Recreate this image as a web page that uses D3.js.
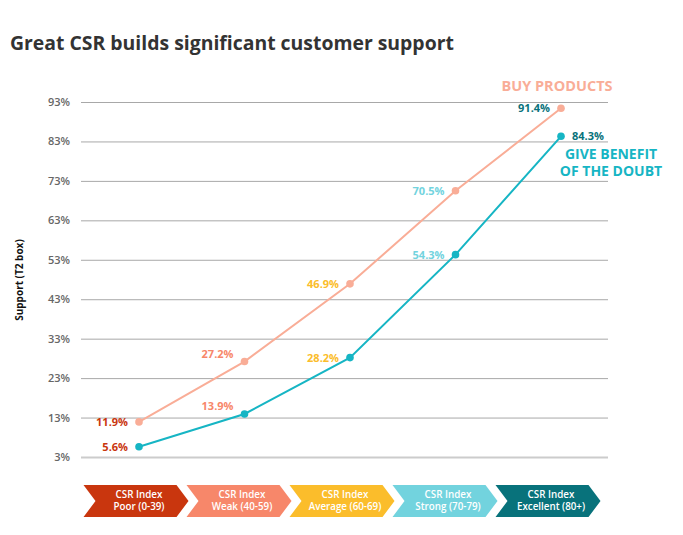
<!DOCTYPE html>
<html><head><meta charset="utf-8">
<script src="https://cdn.jsdelivr.net/npm/d3@7"></script>
<style>body{margin:0;background:#fff}svg{display:block}</style>
</head><body><svg id="c" width="683" height="535"></svg>
<script>
const categories = ["Poor (0-39)", "Weak (40-59)", "Average (60-69)", "Strong (70-79)", "Excellent (80+)"];
const catColors = ["#c9360e", "#f7876a", "#fbbd2b", "#72d3de", "#08727b"];
const buyProducts = [11.9, 27.2, 46.9, 70.5, 91.4];
const giveBenefit = [5.6, 13.9, 28.2, 54.3, 84.3];
const yTicks = [3, 13, 23, 33, 43, 53, 63, 73, 83, 93];
const seriesNames = ["BUY PRODUCTS", "GIVE BENEFIT OF THE DOUBT"];

(function(){
const svg = d3.select("#c");
const font = "'Open Sans', sans-serif";

svg.append("text").attr("x", 10).attr("y", 50).attr("font-family", font)
  .attr("font-weight", 700).attr("font-size", 19.4).attr("fill", "#333")
  .text("Great CSR builds significant customer support");

const x = d3.scalePoint().domain(categories).range([139, 561]);
const y = d3.scaleLinear().domain([3, 93]).range([457, 102]);

const yAxis = d3.axisLeft(y).tickValues(yTicks).tickSize(-527).tickFormat(d => d + "%");
const g = svg.append("g").attr("transform", "translate(81,0)").call(yAxis);
g.select(".domain").remove();
g.selectAll(".tick line").attr("stroke", d => d === 3 ? "#ccc" : "#a8a8a8").attr("stroke-width", d => d === 3 ? 2 : 1);
g.selectAll(".tick text").attr("x", -11).attr("fill", "#666").attr("font-size", 11).attr("font-family", font).attr("font-weight", 600);

svg.append("text").attr("transform", "translate(23,280) rotate(-90)").attr("text-anchor", "middle")
  .attr("font-family", font).attr("font-weight", 700).attr("font-size", 10).attr("fill", "#111").text("Support (T2 box)");

const line = d3.line().x((d, i) => x(categories[i])).y(d => y(d));
const series = [{vals: buyProducts, color: "#f9ad97"}, {vals: giveBenefit, color: "#16b5c4"}];
series.forEach(s => {
  svg.append("path").attr("d", line(s.vals)).attr("fill", "none").attr("stroke", s.color).attr("stroke-width", 2);
  svg.selectAll(null).data(s.vals).enter().append("circle")
    .attr("cx", (d, i) => x(categories[i])).attr("cy", d => y(d)).attr("r", 3.8).attr("fill", s.color);
  svg.selectAll(null).data(s.vals).enter().append("text")
    .attr("x", (d, i) => x(categories[i]) + (i === 4 && s.vals === giveBenefit ? 11 : -11))
    .attr("y", (d, i) => y(d) + (i === 1 ? -8 : 0) + 4)
    .attr("text-anchor", (d, i) => (i === 4 && s.vals === giveBenefit) ? "start" : "end")
    .attr("font-family", font).attr("font-weight", 700).attr("font-size", 11)
    .attr("fill", (d, i) => catColors[i]).text(d => d.toFixed(1) + "%");
});

svg.append("text").attr("x", 557).attr("y", 91).attr("text-anchor", "middle").attr("font-family", font)
  .attr("font-weight", 700).attr("font-size", 14.5).attr("fill", "#f9ad97").text(seriesNames[0]);
const gl = svg.append("text").attr("text-anchor", "middle").attr("font-family", font)
  .attr("font-weight", 700).attr("font-size", 14).attr("fill", "#16b5c4");
gl.append("tspan").attr("x", 611).attr("y", 159).text("GIVE BENEFIT");
gl.append("tspan").attr("x", 611).attr("y", 176).text("OF THE DOUBT");

const cx = d3.scalePoint().domain(categories).range([136, 548]);
const w = 105, h = 32, top0 = 485, notch = 12;
categories.forEach((c, i) => {
  const l = cx(c) - w / 2, r = cx(c) + w / 2;
  const pts = [[l, top0], [r - notch, top0], [r, top0 + h / 2], [r - notch, top0 + h], [l, top0 + h], [l + notch, top0 + h / 2]];
  svg.append("path").attr("d", "M" + pts.map(p => p.join(",")).join("L") + "Z").attr("fill", catColors[i]);
  const t = svg.append("text").attr("text-anchor", "middle").attr("font-family", font)
    .attr("font-weight", 600).attr("font-size", 9.8).attr("fill", "#fff");
  t.append("tspan").attr("x", cx(c) + 3).attr("y", top0 + 13).text("CSR Index");
  t.append("tspan").attr("x", cx(c) + 3).attr("y", top0 + 25).text(c);
});
})();
</script></body></html>
